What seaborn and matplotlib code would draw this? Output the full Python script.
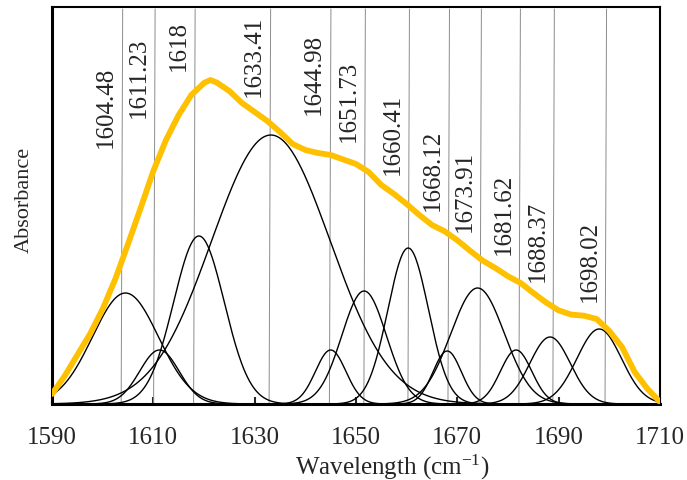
import numpy as np
import pandas as pd
import matplotlib
matplotlib.use('Agg')
import matplotlib.pyplot as plt
import seaborn as sns

spec_wn = [1590, 1592.5, 1595, 1597.5, 1600, 1602.5, 1605, 1607.5, 1610, 1612.5,
           1615, 1617.5, 1620, 1621.25, 1622.5, 1625, 1627.5, 1630, 1632.5, 1635, 1637.5,
           1640, 1642.5, 1645, 1647.5, 1650, 1652.5, 1655, 1657.5, 1660, 1662.5,
           1665, 1667.5, 1670, 1672.5, 1675, 1677.5, 1680, 1682.5, 1685, 1687.5,
           1690, 1692.5, 1695, 1697.5, 1700, 1702.5, 1705, 1707.5, 1710]
spec_abs = [0.010, 0.028, 0.049, 0.070, 0.095, 0.125, 0.160, 0.196, 0.233, 0.264,
            0.289, 0.309, 0.321, 0.324, 0.3215, 0.313, 0.301, 0.292, 0.283, 0.272, 0.260,
            0.254, 0.251, 0.249, 0.2445, 0.240, 0.232, 0.219, 0.210, 0.200, 0.189,
            0.179, 0.1727, 0.1637, 0.1533, 0.1434, 0.136, 0.1277, 0.121, 0.111, 0.1016,
            0.0936, 0.0894, 0.0883, 0.085, 0.073, 0.057, 0.032, 0.0153, 0.002]

# fitted component bands (centre, height, sigma)
centers = [1604.5, 1611.2, 1619.0, 1633.2, 1645.0, 1651.6,
           1660.3, 1668.0, 1674.0, 1681.6, 1688.3, 1698.0]
heights = [0.111, 0.054, 0.168, 0.269, 0.054, 0.113,
           0.156, 0.053, 0.116, 0.054, 0.067, 0.075]
sigmas = [6.5, 3.9, 5.0, 11.7, 3.0, 4.4,
          4.0, 2.8, 5.3, 3.1, 4.0, 4.4]

# peak labels and where their marker lines sit
peak_labels = ["1604.48", "1611.23", "1618", "1633.41", "1644.98", "1651.73",
               "1660.41", "1668.12", "1673.91", "1681.62", "1688.37", "1698.02"]
line_x = [1603.8, 1610.2, 1618.1, 1633.0, 1644.9, 1651.7,
          1660.4, 1668.3, 1674.6, 1682.3, 1689.0, 1699.3]
label_y = [0.257, 0.287, 0.334, 0.308, 0.290, 0.263,
           0.230, 0.194, 0.173, 0.150, 0.123, 0.103]

x_ticks = [1590, 1610, 1630, 1650, 1670, 1690, 1710]

sns.set_style("white")
plt.rcParams['font.family'] = ['Liberation Serif', 'DejaVu Serif']
plt.rcParams['mathtext.fontset'] = 'custom'
plt.rcParams['mathtext.rm'] = 'Liberation Serif'
plt.rcParams['mathtext.default'] = 'regular'
plt.rcParams['lines.solid_joinstyle'] = 'round'
plt.rcParams['lines.solid_capstyle'] = 'round'

wn = np.linspace(1590, 1710, 601)
rows = []
for i, (c, h, s) in enumerate(zip(centers, heights, sigmas)):
    rows.append(pd.DataFrame({'wn': wn, 'A': h * np.exp(-(wn - c) ** 2 / (2 * s ** 2)), 'peak': i}))
comp = pd.concat(rows, ignore_index=True)
spec = pd.DataFrame({'wn': spec_wn, 'A': spec_abs})

fig = plt.figure(figsize=(6.87, 4.81), dpi=100)
ax = fig.add_axes([52 / 687, 76 / 481, 608 / 687, 397 / 481])

# thin marker lines (slightly slanted, as in the original)
for lx in line_x:
    ax.plot([lx - 0.15, lx + 0.15], [0, 0.395], color='#8c8c8c', lw=0.7, zorder=1)

sns.lineplot(data=comp, x='wn', y='A', hue='peak', units='peak', estimator=None,
             palette=['black'] * len(centers), lw=1.0, legend=False, ax=ax, zorder=2)
sns.lineplot(data=spec, x='wn', y='A', color='#5B9BD5', lw=1.8, ax=ax, zorder=3)
sns.lineplot(data=spec, x='wn', y='A', color='#FFC000', lw=4.2, ax=ax, zorder=4)

for lab, lx, ly in zip(peak_labels, line_x, label_y):
    ax.annotate(lab, (lx, ly), xytext=(-11.5, 0), textcoords='offset points',
                rotation=90, ha='center', va='bottom', fontsize=18)

ax.set_xlim(1590, 1710)
ax.set_ylim(0, 0.397)
ax.set_xticks(x_ticks)
ax.set_yticks([])
ax.tick_params(axis='x', direction='in', length=5, width=1.5, labelsize=18, pad=16, bottom=True)
for side, sp in ax.spines.items():
    sp.set_color('black')
    sp.set_linewidth(2.2 if side in ('left', 'bottom') else 1.5)
ax.set_xlabel('Wavelength (cm$^{-1}$)', fontsize=18)
ax.set_ylabel('Absorbance', fontsize=16)
ax.xaxis.set_label_coords(0.559, -0.12)
ax.yaxis.set_label_coords(-0.03, 0.516)

fig.savefig('out.png', dpi=100)
